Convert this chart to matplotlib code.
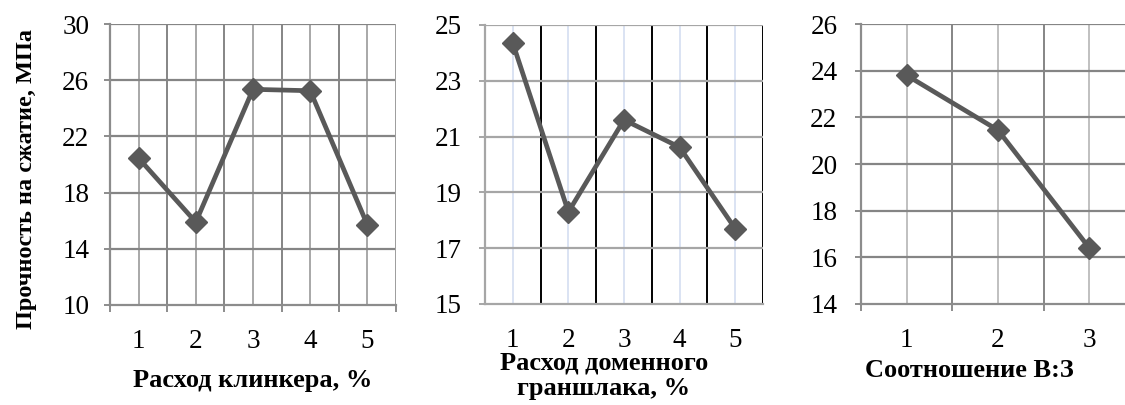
import matplotlib.pyplot as plt
import numpy as np

plt.rcParams['font.family'] = ['Liberation Serif', 'DejaVu Serif']

# data
klinker_x = [1, 2, 3, 4, 5]
klinker_y = [20.45, 15.9, 25.35, 25.25, 15.7]

shlak_x = [1, 2, 3, 4, 5]
shlak_y = [24.35, 18.3, 21.6, 20.62, 17.7]

vz_x = [1, 2, 3]
vz_y = [23.8, 21.45, 16.4]

line_color = '#595959'

W, H = 1125, 405
fig = plt.figure(figsize=(W / 100, H / 100), dpi=100)


def make_ax(x0, x1, ytop, ybot):
    return fig.add_axes([x0 / W, 1 - ybot / H, (x1 - x0) / W, (ybot - ytop) / H])


def style(ax, n, xmax, ylim, yticks, bound_col, center_col, axis_col, grid_col, ypad, xticks_out=True):
    ax.set_xlim(0.5, xmax)
    ax.set_ylim(*ylim)
    ax.set_yticks(yticks)
    ax.set_xticks(np.arange(0.5, n + 1, 1.0))
    ax.set_xticks(np.arange(1, n + 1), minor=True)
    ax.set_xticklabels([])
    ax.set_xticklabels([str(i) for i in range(1, n + 1)], minor=True)
    for v in np.arange(1.5, n + 0.6, 1.0):
        ax.axvline(v, color=bound_col, lw=1.4, zorder=1)
    for v in range(1, n + 1):
        ax.axvline(v, color=center_col, lw=1.4, zorder=1)
    for v in yticks[1:]:
        ax.axhline(v, color=grid_col, lw=1.6, zorder=1)
    for s in ['top', 'right']:
        ax.spines[s].set_visible(False)
    ax.spines['left'].set_color(axis_col)
    ax.spines['bottom'].set_color(axis_col)
    ax.spines['left'].set_linewidth(1.6)
    ax.spines['bottom'].set_linewidth(1.6)
    ax.tick_params(axis='y', length=4, width=1.4, color=axis_col, labelsize=19.5, pad=ypad)
    ax.tick_params(axis='x', which='major', length=5 if xticks_out else 0,
                   width=1.4, color=axis_col)
    ax.tick_params(axis='x', which='minor', length=0, labelsize=19.5, pad=17)


ax1 = make_ax(110, 396, 24, 305)
style(ax1, 5, 5.5, (10, 30), [10, 14, 18, 22, 26, 30],
      '#858585', '#a8a8a8', '#8c8c8c', '#858585', 11)
ax1.plot(klinker_x, klinker_y, color=line_color, lw=3.4, marker='D', ms=11, zorder=3)
ax1.axvline(5.5, color='#a0a0a0', lw=1.4)
ax1.set_xlabel('Расход клинкера, %', fontsize=19, fontweight='bold')
ax1.xaxis.set_label_coords(0.5, -0.228)
ax1.set_ylabel('Прочность на сжатие, МПа', fontsize=17.5, fontweight='bold')
ax1.yaxis.set_label_coords(-0.255, 0.45)

ax2 = make_ax(485, 763, 25, 304)
style(ax2, 5, 5.5, (15, 25), [15, 17, 19, 21, 23, 25],
      '#000000', '#dae3f3', '#a6a6a6', '#a6a6a6', 13, xticks_out=False)
ax2.plot(shlak_x, shlak_y, color=line_color, lw=3.4, marker='D', ms=11, zorder=3)
ax2.set_xlabel('Расход доменного\nграншлака, %', fontsize=19, fontweight='bold',
               linespacing=1.12)
ax2.xaxis.set_label_coords(0.428, -0.172)

ax3 = make_ax(861, 1135, 24, 304)
style(ax3, 3, 3.5, (14, 26), [14, 16, 18, 20, 22, 24, 26],
      '#858585', '#c0c0c0', '#8c8c8c', '#858585', 13)
ax3.plot(vz_x, vz_y, color=line_color, lw=3.4, marker='D', ms=11, zorder=3)
ax3.set_xlabel('Соотношение В:З', fontsize=19, fontweight='bold')
ax3.xaxis.set_label_coords(0.396, -0.198)

fig.savefig('out.png', dpi=100)
